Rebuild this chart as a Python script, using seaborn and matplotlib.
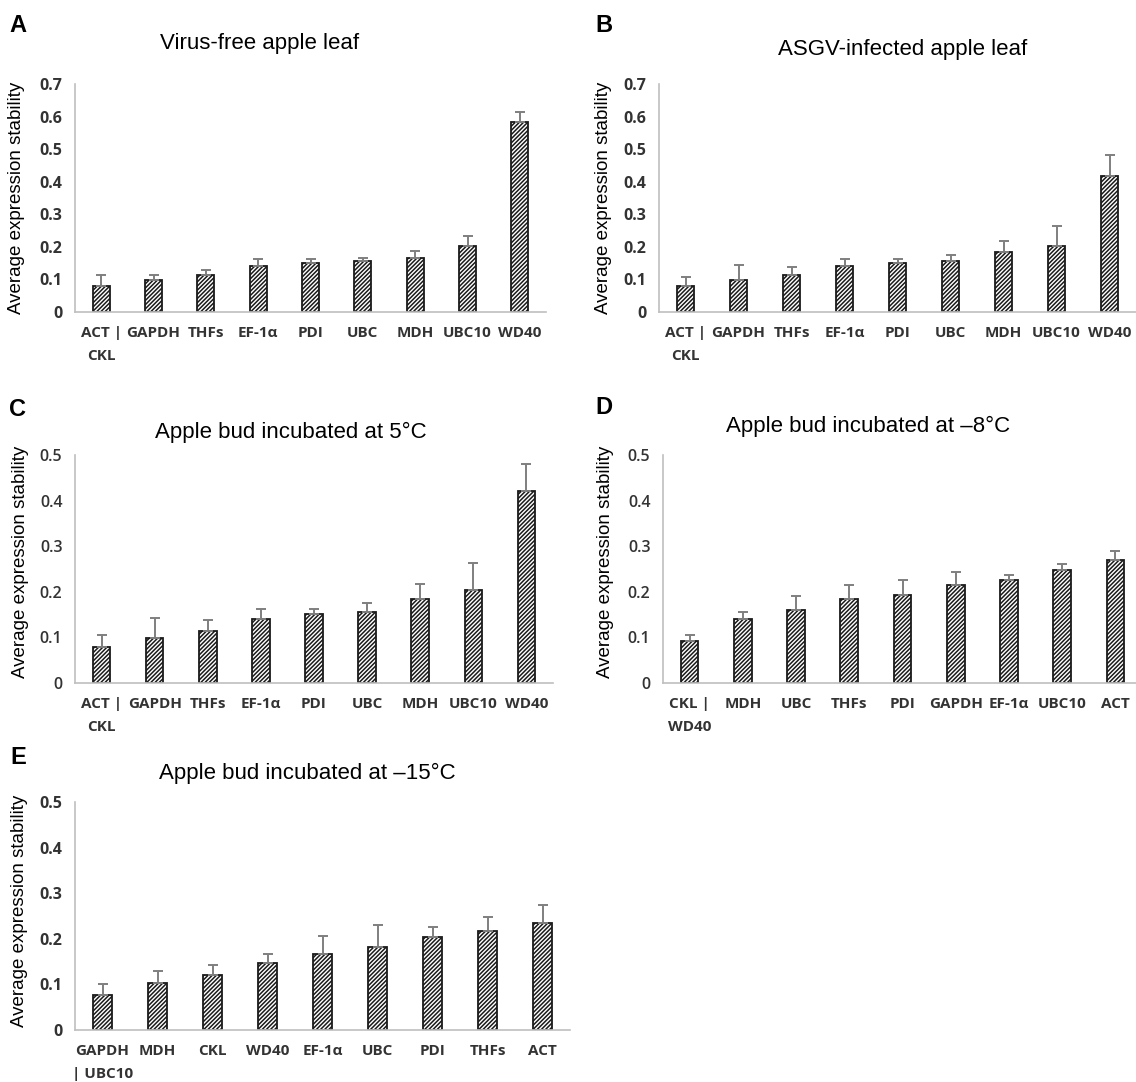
import numpy as np
import matplotlib.pyplot as plt
import seaborn as sns

sns.set_style("white")
plt.rcParams['font.family'] = ['Liberation Sans', 'DejaVu Sans']
plt.rcParams['hatch.linewidth'] = 1.1
plt.rcParams['hatch.color'] = '#1a1a1a'

W, H = 1136, 1082

# --- data (bar value, top of the error bar) ---
genes_a = ["ACT |\nCKL", "GAPDH", "THFs", "EF-1α", "PDI", "UBC", "MDH", "UBC10", "WD40"]
vals_a = [0.080, 0.099, 0.115, 0.141, 0.151, 0.156, 0.165, 0.203, 0.584]
err_a = [0.115, 0.113, 0.128, 0.162, 0.162, 0.165, 0.187, 0.234, 0.614]

genes_b = ["ACT |\nCKL", "GAPDH", "THFs", "EF-1α", "PDI", "UBC", "MDH", "UBC10", "WD40"]
vals_b = [0.079, 0.098, 0.115, 0.141, 0.151, 0.156, 0.185, 0.203, 0.419]
err_b = [0.106, 0.143, 0.138, 0.162, 0.162, 0.175, 0.217, 0.264, 0.481]

genes_c = ["ACT |\nCKL", "GAPDH", "THFs", "EF-1α", "PDI", "UBC", "MDH", "UBC10", "WD40"]
vals_c = [0.080, 0.099, 0.115, 0.141, 0.151, 0.156, 0.185, 0.203, 0.420]
err_c = [0.106, 0.143, 0.139, 0.162, 0.162, 0.175, 0.217, 0.264, 0.481]

genes_d = ["CKL |\nWD40", "MDH", "UBC", "THFs", "PDI", "GAPDH", "EF-1α", "UBC10", "ACT"]
vals_d = [0.092, 0.140, 0.160, 0.184, 0.194, 0.215, 0.225, 0.248, 0.269]
err_d = [0.105, 0.155, 0.191, 0.215, 0.225, 0.244, 0.237, 0.260, 0.290]

genes_e = ["GAPDH\n| UBC10", "MDH", "CKL", "WD40", "EF-1α", "UBC", "PDI", "THFs", "ACT"]
vals_e = [0.077, 0.104, 0.120, 0.146, 0.166, 0.182, 0.204, 0.217, 0.234]
err_e = [0.100, 0.130, 0.143, 0.166, 0.207, 0.231, 0.226, 0.248, 0.275]


def px_axes(fig, left, right, top, bottom):
    return fig.add_axes([left / W, 1 - bottom / H, (right - left) / W, (bottom - top) / H])


def draw_panel(ax, genes, vals, errs, ymax, bold_y=True):
    sns.barplot(x=genes, y=vals, order=genes, ax=ax, color='white', saturation=1,
                edgecolor='#1a1a1a', linewidth=1.3, width=0.33, errorbar=None)
    for p in ax.patches:
        p.set_hatch('////////')
        p.set_facecolor('white')
    up = np.array(errs) - np.array(vals)
    ax.errorbar(np.arange(len(genes)), vals, yerr=[np.zeros(len(genes)), up],
                fmt='none', ecolor='#7f7f7f', elinewidth=1.4, capsize=3.5,
                capthick=1.4, zorder=3)
    ax.set_xlim(-0.5, len(genes) - 0.5)
    ax.set_ylim(0, ymax)
    ticks = np.round(np.arange(0, ymax + 0.001, 0.1), 1)
    ax.set_yticks(ticks)
    ax.set_yticklabels(["0" if t == 0 else f"{t:.1f}" for t in ticks],
                       fontfamily='Open Sans', fontweight='bold' if bold_y else 'semibold',
                       fontsize=11.5, color='#333333')
    ax.set_xticks(np.arange(len(genes)))
    ax.set_xticklabels(genes, fontfamily='Open Sans', fontweight='bold',
                       fontsize=11, color='#333333', linespacing=1.8)
    ax.tick_params(axis='x', length=0, pad=10)
    ax.tick_params(axis='y', length=0, pad=9)
    ax.set_xlabel("")
    ax.set_ylabel("")
    for s in ['top', 'right']:
        ax.spines[s].set_visible(False)
    for s in ['left', 'bottom']:
        ax.spines[s].set_color('#bfbfbf')
        ax.spines[s].set_linewidth(1.2)


fig = plt.figure(figsize=(W / 100, H / 100), dpi=100)

ax_a = px_axes(fig, 75, 546, 84, 312)
draw_panel(ax_a, genes_a, vals_a, err_a, 0.7)
ax_b = px_axes(fig, 659, 1136, 84, 312)
draw_panel(ax_b, genes_b, vals_b, err_b, 0.7)
ax_c = px_axes(fig, 75, 553, 455, 683)
draw_panel(ax_c, genes_c, vals_c, err_c, 0.5, bold_y=False)
ax_d = px_axes(fig, 663, 1142, 455, 683)
draw_panel(ax_d, genes_d, vals_d, err_d, 0.5, bold_y=False)
ax_e = px_axes(fig, 75, 570, 802, 1030)
draw_panel(ax_e, genes_e, vals_e, err_e, 0.5)

# titles
titles = [("Virus-free apple leaf", 260, 44), ("ASGV-infected apple leaf", 903, 50),
          ("Apple bud incubated at 5°C", 291, 432), ("Apple bud incubated at –8°C", 868, 426),
          ("Apple bud incubated at –15°C", 307, 773)]
for txt, x, y in titles:
    fig.text(x / W, 1 - y / H, txt, ha='center', va='center', fontsize=16, color='black')

# panel letters
letters = [("A", 18, 25), ("B", 604, 25), ("C", 18, 409), ("D", 604, 408), ("E", 18, 758)]
for txt, x, y in letters:
    fig.text(x / W, 1 - y / H, txt, ha='center', va='center', fontsize=17,
             fontweight='bold', color='black')

# y-axis labels
ylabels = [(17, 198), (604, 198), (21, 562), (606, 562), (20, 911)]
for x, y in ylabels:
    fig.text(x / W, 1 - y / H, "Average expression stability", rotation=90,
             ha='center', va='center', fontsize=13.5, color='black')

fig.savefig("out.png", dpi=100)
